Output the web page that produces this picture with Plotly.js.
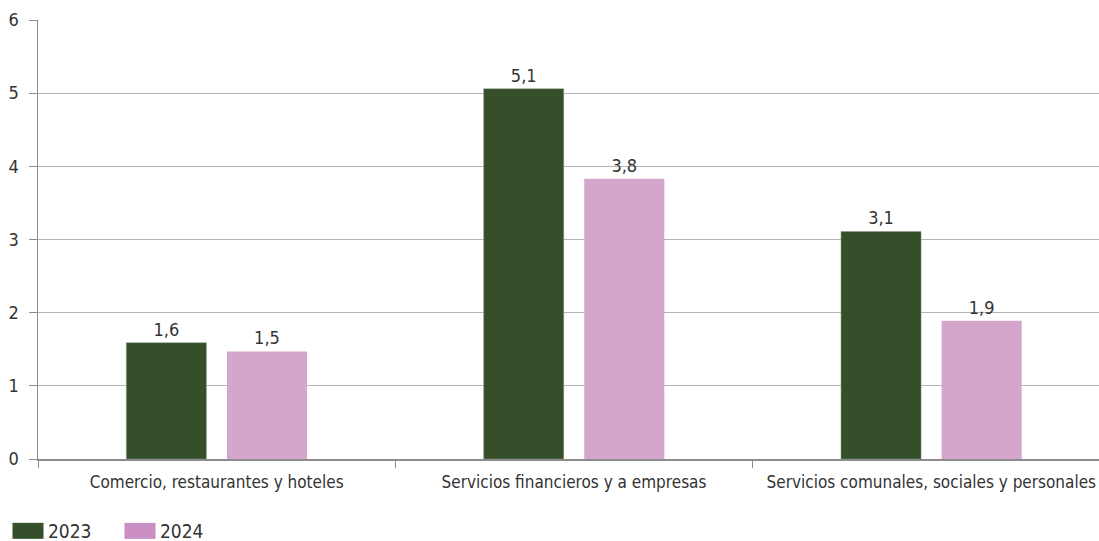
<!DOCTYPE html>
<html>
<head>
<meta charset="utf-8">
<script src="https://cdn.plot.ly/plotly-3.0.1.min.js"></script>
<style>
html,body{margin:0;padding:0;overflow:hidden;background:#fff;}
#chart{width:1110px;height:541px;}
</style>
</head>
<body>
<div id="chart"></div>
<script>
const categories = ["Comercio, restaurantes y hoteles", "Servicios financieros y a empresas", "Servicios comunales, sociales y personales"];
const values2023 = [1.59, 5.06, 3.11];
const values2024 = [1.47, 3.83, 1.89];
const seriesNames = ["2023", "2024"];
const yTicks = [0, 1, 2, 3, 4, 5, 6];

const FONT = "'DejaVu Sans Condensed', 'Roboto', sans-serif";
const TXT = "#333333";
const legendSwatchColors = ["#364f2b", "#cc8fc4"];

const traces = [
  {
    type: "bar", name: seriesNames[0], x: categories, y: values2023,
    marker: {color: "#364f2b", line: {color: "#8a9a84", width: 0.5}},
    texttemplate: "%{y:.1f}", textposition: "outside", cliponaxis: false,
    textfont: {family: FONT, size: 18, color: TXT}, hoverinfo: "skip"
  },
  {
    type: "bar", name: seriesNames[1], x: categories, y: values2024,
    marker: {color: "#d4a6cc"},
    texttemplate: "%{y:.1f}", textposition: "outside", cliponaxis: false,
    textfont: {family: FONT, size: 18, color: TXT}, hoverinfo: "skip"
  }
];

const layout = {
  width: 1110, height: 541,
  margin: {l: 38, r: 0, t: 20, b: 82},
  paper_bgcolor: "#ffffff", plot_bgcolor: "#ffffff",
  separators: ",.",
  barmode: "group",
  bargap: 0.437,
  bargroupgap: 0.204,
  font: {family: FONT, size: 18, color: TXT},
  showlegend: true,
  legend: {
    orientation: "h", xref: "container", yref: "container",
    x: 0.0072, xanchor: "left", y: 0.0185, yanchor: "middle",
    font: {family: FONT, size: 19, color: TXT},
    entrywidth: 67, entrywidthmode: "pixels",
    tracegroupgap: 0, traceorder: "normal"
  },
  xaxis: {
    type: "category", automargin: false, tickangle: 0,
    showline: true, linecolor: "#8c8c8c", linewidth: 1.5,
    ticks: "outside", tickson: "boundaries", ticklen: 7, tickcolor: "#8c8c8c", tickwidth: 1,
    tickfont: {family: FONT, size: 17, color: TXT},
    ticklabelstandoff: 7,
    showgrid: false, zeroline: false, fixedrange: true
  },
  yaxis: {
    range: [0, 6], tickvals: yTicks, ticktext: yTicks.map(String), automargin: false,
    showline: true, linecolor: "#8c8c8c", linewidth: 1.5,
    ticks: "outside", ticklen: 8, tickcolor: "#8c8c8c", tickwidth: 1,
    showgrid: true, gridcolor: "#b5b5b5", gridwidth: 1,
    zeroline: false,
    tickfont: {family: FONT, size: 18, color: TXT},
    ticklabelstandoff: 6, fixedrange: true
  }
};

Plotly.newPlot("chart", traces, layout, {displayModeBar: false, staticPlot: true}).then(function (gd) {
  // widen the legend swatches into rectangles like the reference
  gd.querySelectorAll(".legend .traces").forEach(function (t, i) {
    t.querySelectorAll(".legendpoints path").forEach(function (p) {
      p.setAttribute("d", "M15.5,8H-15.5V-8H15.5Z");
      if (legendSwatchColors[i]) { p.style.fill = legendSwatchColors[i]; p.style.stroke = "none"; }
    });
  });
});
</script>
</body>
</html>
